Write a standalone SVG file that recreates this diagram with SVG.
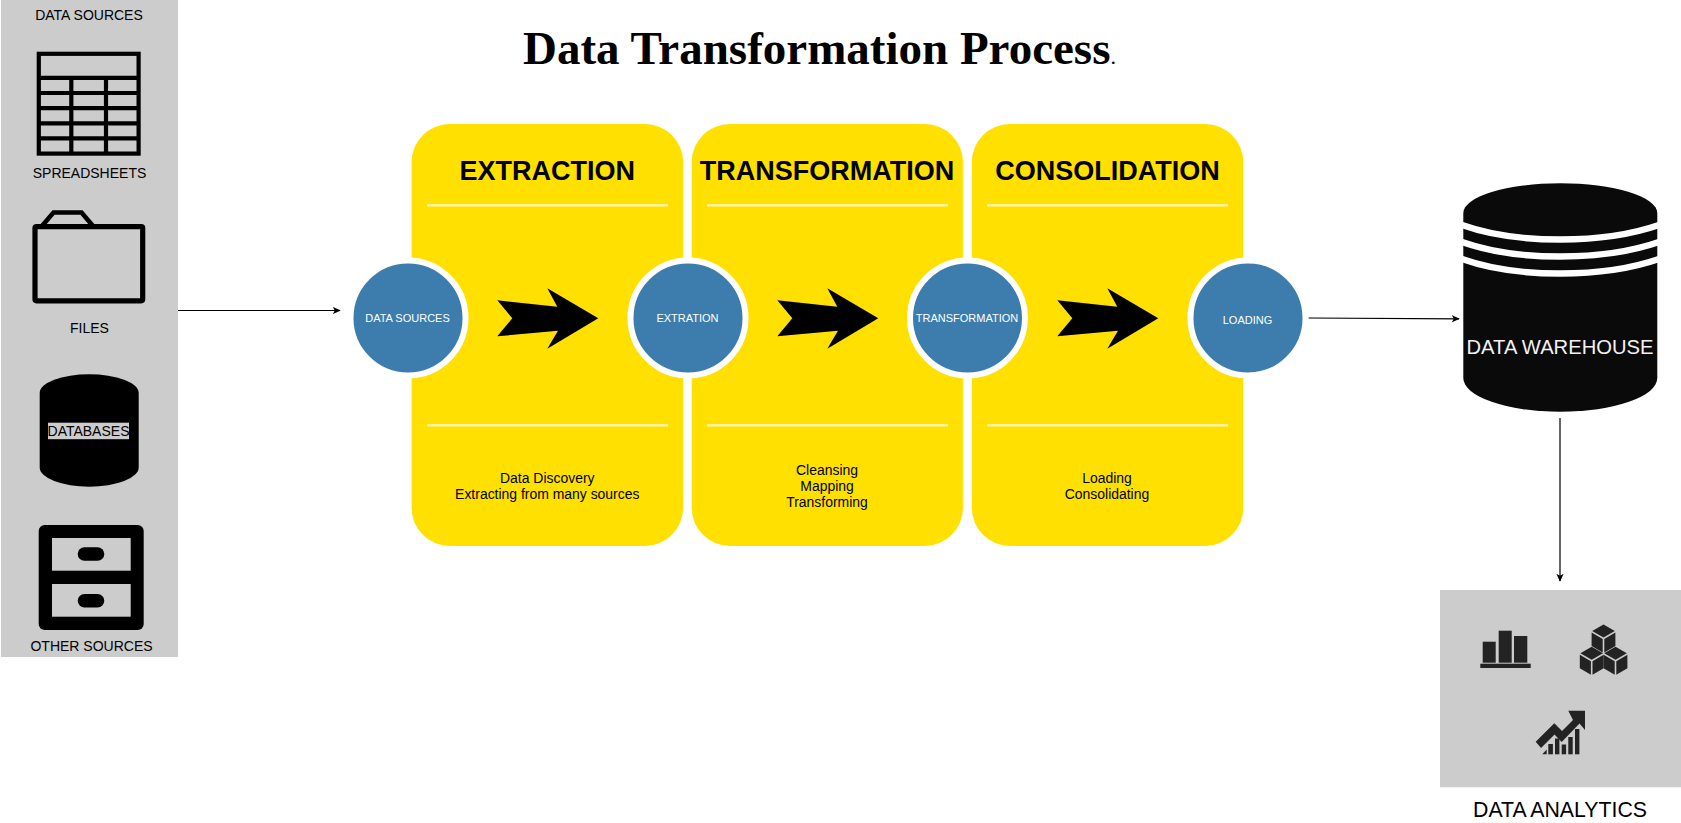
<svg xmlns="http://www.w3.org/2000/svg" width="1681" height="823" viewBox="0 0 1681 823">
<style>
text{font-family:"Liberation Sans",Arial,sans-serif;text-anchor:middle;fill:#000}
.src{font-size:14px}
.ttl{font-size:27px;font-weight:bold}
.body{font-size:13.95px}
.cir{font-size:11px;fill:#fff}
.panel{fill:#FFE000}
.rule{stroke:#FFF3A6;stroke-width:2.4;fill:none}
.ring{fill:#3C7DAD;stroke:#fff;stroke-width:6}
.conn{stroke:#000;stroke-width:1.2;fill:none;marker-end:url(#ah)}
.ic{fill:#232323}
</style>
<defs>
<marker id="ah" viewBox="0 0 10 10" refX="9" refY="5" markerWidth="8" markerHeight="8" markerUnits="userSpaceOnUse" orient="auto"><path d="M0 0.5L10 5L0 9.5L2.5 5Z" fill="#000"/></marker>
<polygon id="bigarrow" points="497.3,300.3 557.3,306.7 547.3,288.3 598.3,318.3 547.3,348.7 558,330.7 497.3,336.3 512.3,318.3" fill="#000"/>
<g id="cube" class="ic" stroke="none"><polygon points="0,0 11.3,6.5 0,13 -11.3,6.5"/><polygon points="-11.9,8 -0.8,14.5 -0.8,28 -11.9,21.5"/><polygon points="11.9,8 0.8,14.5 0.8,28 11.9,21.5"/></g>
</defs>
<rect width="1681" height="823" fill="#fff"/>
<text x="523" y="64" style="font-family:'Liberation Serif','Times New Roman',serif;font-size:47px;font-weight:bold;text-anchor:start">Data Transformation Process<tspan style="font-size:22px;font-weight:normal">.</tspan></text>

<g id="data-sources-panel">
<rect x="1" y="0" width="177" height="657" fill="#CCCCCC"/>
<text class="src" x="89" y="20">DATA SOURCES</text>
<g id="spreadsheets">
<rect x="38.8" y="53.8" width="99.8" height="99.8" fill="none" stroke="#000" stroke-width="4.2"/>
<path d="M38 77.8H140M38 93H140M38 108.2H140M38 123.3H140M38 138.3H140M71.3 78V153M106 78V153" stroke="#000" stroke-width="4.2" fill="none"/>
<text class="src" x="89.5" y="177.7">SPREADSHEETS</text>
</g>
<g id="files">
<path d="M42 226L53.5 212.5H81.5L93 226" fill="none" stroke="#000" stroke-width="4.6"/>
<rect x="35" y="226.6" width="107.7" height="74.2" rx="1.5" fill="none" stroke="#000" stroke-width="5.2"/>
<text class="src" x="89.5" y="332.7">FILES</text>
</g>
<g id="databases">
<path d="M39.7 393A49.5 18.7 0 0 1 138.7 393V467.5A49.5 19.2 0 0 1 39.7 467.5Z" fill="#000"/>
<rect x="48" y="422.7" width="81" height="16.5" fill="#CCCCCC"/>
<text class="src" x="88.5" y="435.7">DATABASES</text>
</g>
<g id="other-sources">
<rect x="38.7" y="525" width="105" height="105" rx="6" fill="#000"/>
<rect x="52" y="538" width="78.7" height="32.7" fill="#CCCCCC"/>
<rect x="52" y="584" width="78.7" height="32.7" fill="#CCCCCC"/>
<rect x="77.7" y="547.3" width="26.6" height="13.4" rx="6.7" fill="#000"/>
<rect x="77.7" y="594" width="26.6" height="13.4" rx="6.7" fill="#000"/>
<text class="src" x="91.5" y="650.7">OTHER SOURCES</text>
</g>
</g>

<g id="extraction">
<rect class="panel" x="411.6" y="124" width="271.5" height="422" rx="38"/>
<path class="rule" d="M427 205.3H668M427 425.3H668"/>
<text class="ttl" x="547.3" y="180">EXTRACTION</text>
<text class="body" x="547.3" y="482.7">Data Discovery</text>
<text class="body" x="547.3" y="498.7">Extracting from many sources</text>
<use href="#bigarrow"/>
</g>
<g id="transformation">
<rect class="panel" x="691.7" y="124" width="271.2" height="422" rx="38"/>
<path class="rule" d="M707 205.3H948M707 425.3H948"/>
<text class="ttl" x="827" y="180">TRANSFORMATION</text>
<text class="body" x="827" y="474.7">Cleansing</text>
<text class="body" x="827" y="490.7">Mapping</text>
<text class="body" x="827" y="506.7">Transforming</text>
<use href="#bigarrow" x="280"/>
</g>
<g id="consolidation">
<rect class="panel" x="971.8" y="124" width="271.5" height="422" rx="38"/>
<path class="rule" d="M987 205.3H1228M987 425.3H1228"/>
<text class="ttl" x="1107.5" y="180">CONSOLIDATION</text>
<text class="body" x="1107" y="482.7">Loading</text>
<text class="body" x="1107" y="498.7">Consolidating</text>
<use href="#bigarrow" x="560"/>
</g>

<g id="step-data-sources"><circle class="ring" cx="408" cy="318" r="57.5"/><text class="cir" x="407.5" y="322">DATA SOURCES</text></g>
<g id="step-extration"><circle class="ring" cx="688" cy="318" r="57.5"/><text class="cir" x="687.5" y="322">EXTRATION</text></g>
<g id="step-transformation"><circle class="ring" cx="967.5" cy="318" r="57.5"/><text class="cir" x="967" y="322">TRANSFORMATION</text></g>
<g id="step-loading"><circle class="ring" cx="1248" cy="318" r="57.5"/><text class="cir" x="1247.5" y="324">LOADING</text></g>

<g id="data-warehouse">
<path d="M1463.3 213A97 29.7 0 0 1 1657.3 213V378A97 33.7 0 0 1 1463.3 378Z" fill="#0A0A0A"/>
<path d="M1462 225C1490 235 1520 239.5 1560.3 239.5S1630 235 1659 225M1462 242C1490 252 1520 256.5 1560.3 256.5S1630 252 1659 242M1462 259C1490 269 1520 273.5 1560.3 273.5S1630 269 1659 259" fill="none" stroke="#fff" stroke-width="6.4"/>
<text x="1560" y="354.3" style="font-size:20.2px;fill:#F2F2F2">DATA WAREHOUSE</text>
</g>

<g id="data-analytics">
<rect x="1440" y="590" width="241" height="197.3" fill="#CCCCCC"/>
<g class="ic">
<rect x="1482.7" y="641.7" width="13" height="21"/><rect x="1498.7" y="630.7" width="13" height="32"/><rect x="1514" y="636" width="13.3" height="26.7"/><rect x="1480.3" y="663.7" width="50.4" height="4.3"/>
</g>
<use href="#cube" x="1603.5" y="624.5"/>
<use href="#cube" x="1591.7" y="646.7"/>
<use href="#cube" x="1615.5" y="646.7"/>
<g class="ic">
<polygon points="1535.7,741.7 1554.3,723.3 1562,731 1573,720 1568.3,710.7 1585,710.7 1585,730 1579.5,723.5 1561.7,742 1554.5,734.5 1541,748"/>
<polygon points="1542.3,754.3 1546.7,749.5 1546.7,754.3"/>
<rect x="1548.3" y="744" width="4.6" height="10.3"/><rect x="1555" y="738.5" width="4.4" height="15.8"/><rect x="1561.7" y="744.5" width="4.4" height="9.8"/><rect x="1568.3" y="737" width="4.4" height="17.3"/><rect x="1575" y="729" width="4.4" height="25.3"/>
</g>
<text x="1560" y="816.7" style="font-size:21.3px">DATA ANALYTICS</text>
</g>

<g id="connectors">
<path class="conn" d="M178 310.5H340"/>
<path class="conn" d="M1308.6 318L1459 318.8"/>
<path class="conn" d="M1560 418V581"/>
</g>
</svg>
